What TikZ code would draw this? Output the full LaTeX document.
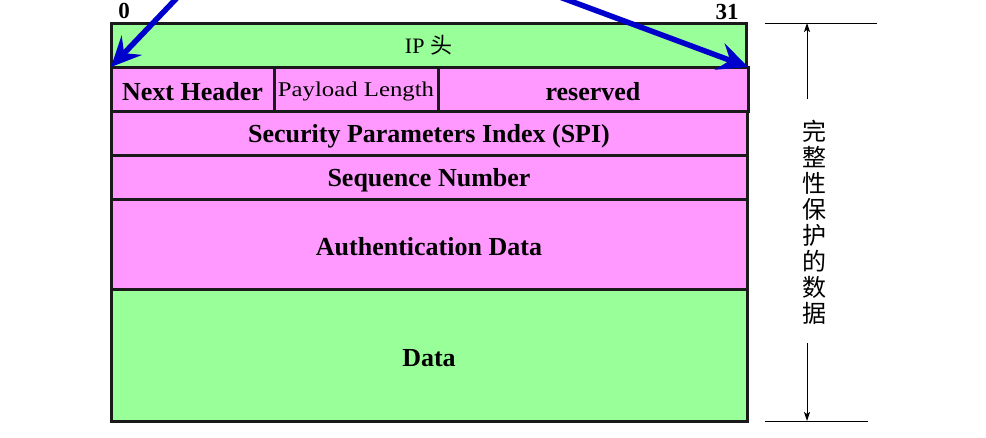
\documentclass[tikz,border=0pt]{standalone}
\usepackage{fontspec}
\setmainfont{Liberation Serif}
\newfontfamily\cjk{Noto Sans CJK SC}
\usetikzlibrary{arrows.meta}
\definecolor{ipgreen}{HTML}{99FF99}
\definecolor{ahpink}{HTML}{FF99FF}
\definecolor{arrowblue}{HTML}{0000CC}
\definecolor{edge}{HTML}{1A1A1A}
\tikzset{
  cell/.style={draw=edge, line width=3pt, anchor=north west, inner sep=0pt, outer sep=0pt},
  greencell/.style={cell, fill=ipgreen},
  pinkcell/.style={cell, fill=ahpink},
  boldtxt/.style={font=\fontsize{26}{30}\selectfont\bfseries, yshift=-3pt},
  bitlbl/.style={font=\fontsize{23}{26}\selectfont\bfseries, inner sep=0pt},
  bluearrow/.style={draw=arrowblue, line width=5.5pt, -{Stealth[length=30pt,width=28pt,inset=11pt]}},
  dimline/.style={draw=black, line width=1pt},
  dimarrow/.style={draw=black, line width=1pt, -{Stealth[length=9pt,width=6pt,inset=2pt]}}
}
\begin{document}
\begin{tikzpicture}[x=1pt,y=1pt]
\useasboundingbox (0,0) rectangle (986,-437);
\clip (0,0) rectangle (986,-437);
% cells
\node[greencell, minimum width=635pt, minimum height=44pt] (ip) at (111,-23) {};
\node[font=\fontsize{22}{26}\selectfont] at (ip.center) {IP {\cjk 头}};
\node[greencell, minimum width=636pt, minimum height=132pt] (data) at (111,-289) {};
\node[boldtxt] at (data.center) {Data};
\node[pinkcell, minimum width=636pt, minimum height=90pt] (auth) at (111,-199) {};
\node[boldtxt] at (auth.center) {Authentication Data};
\node[pinkcell, minimum width=636pt, minimum height=44pt] (seq) at (111,-155) {};
\node[boldtxt] at (seq.center) {Sequence Number};
\node[pinkcell, minimum width=636pt, minimum height=44pt] (spi) at (111,-111) {};
\node[boldtxt] at (spi.center) {Security Parameters Index (SPI)};
\node[pinkcell, minimum width=163pt, minimum height=44pt] (nh) at (111,-67) {};
\node[boldtxt] at (nh.center) {Next Header};
\node[pinkcell, minimum width=164pt, minimum height=44pt] (pl) at (274,-67) {};
\node[font=\fontsize{21}{25}\selectfont, yshift=-2pt] at (pl.center) {\scalebox{1.18}[1]{Payload Length}};
\node[pinkcell, minimum width=310pt, minimum height=44pt] (res) at (438,-67) {};
\node[boldtxt] at (res.center) {reserved};
% bit labels
\node[bitlbl] (b0) at (124,-11) {0};
\node[bitlbl] (b31) at (727,-12) {31};
% blue arrows
\coordinate (lstart) at (194,20);
\coordinate (rstart) at (514,20);
\draw[bluearrow] (lstart) -- (nh.north west);
\draw[bluearrow] (rstart) -- (res.north east);
% dimension on the right
\coordinate (dt1) at (765,-23);
\coordinate (dt2) at (877,-23);
\coordinate (db1) at (765,-421);
\coordinate (db2) at (868,-421);
\draw[dimline] (dt1) -- (dt2);
\draw[dimline] (db1) -- (db2);
\node[font=\cjk\fontsize{24}{26}\selectfont, align=center, inner sep=0pt] (prot) at (814,-222) {完\\整\\性\\保\\护\\的\\数\\据};
\coordinate (vt) at (807,-99);
\coordinate (vtt) at (807,-23);
\coordinate (vb) at (807,-343);
\coordinate (vbb) at (807,-421);
\draw[dimarrow] (vt) -- (vtt);
\draw[dimarrow] (vb) -- (vbb);
\end{tikzpicture}
\end{document}
